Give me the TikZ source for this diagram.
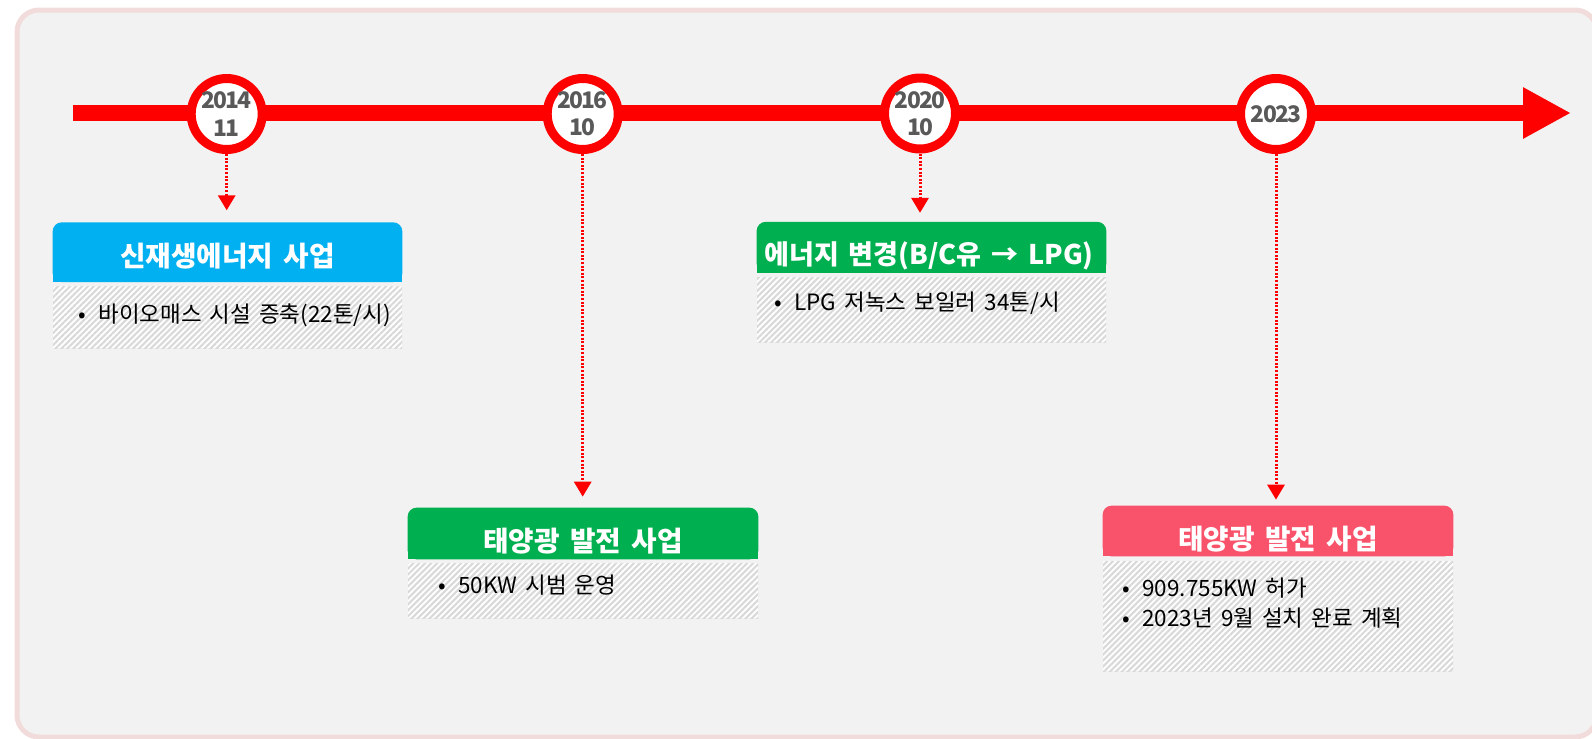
\documentclass[tikz,border=0pt]{standalone}
\usepackage{fontspec}
\setmainfont[WordSpace=1.6]{Noto Sans CJK KR}
\newfontfamily\yrfont[LetterSpace=-8]{Noto Sans CJK KR}
\usetikzlibrary{arrows.meta,patterns.meta}
\definecolor{bgfill}{HTML}{F2F2F2}
\definecolor{bgline}{HTML}{F2DCDB}
\definecolor{tlred}{HTML}{FF0000}
\definecolor{yrgray}{HTML}{595959}
\definecolor{skyblu}{HTML}{00B0F0}
\definecolor{grn}{HTML}{00B050}
\definecolor{pnk}{HTML}{F9526B}
\newlength\pu \setlength\pu{0.02cm}
\tikzstyle{yr}=[circle,draw=tlred,line width=9\pu,fill=white,minimum size=71\pu,inner sep=0pt,text=yrgray,align=center,font=\yrfont\bfseries\fontsize{13}{15.5}\selectfont]
\tikzstyle{hdr}=[rectangle,inner sep=0pt]
\tikzstyle{ttl}=[inner sep=0pt,text=white,font=\bfseries\fontsize{15.8}{18}\selectfont]
\tikzstyle{bdy}=[rectangle,inner sep=0pt,preaction={fill=white},pattern={Lines[angle=45,distance=2.4pt,line width=1.2pt]},pattern color=gray!30]
\tikzstyle{itm}=[anchor=west,inner sep=0pt,font=\fontsize{12.8}{15}\selectfont]
\tikzstyle{dotarr}=[tlred,line width=3\pu,dash pattern=on 2\pu off 1.6\pu,-{Triangle[length=0.3cm,width=0.34cm]}]
\newcommand{\bul}{\makebox[20\pu][l]{•}}

\begin{document}
\begin{tikzpicture}[x=0.02cm,y=-0.02cm]
\useasboundingbox (0,0) rectangle (1592,738);
\draw[draw=bgline,line width=5\pu,fill=bgfill,rounded corners=22\pu] (17,10) rectangle (1597,737);
% timeline
\coordinate (tl0) at (73,113); \coordinate (tl1) at (1571,113);
\draw[tlred,line width=16\pu,-{Triangle[length=0.96cm,width=0.96cm]}] (tl0) -- (tl1);
\node[yr] (c1) at (226.7,114) {2014\\11};
\node[yr] (c2) at (582.7,114) {2016\\10};
\node[yr] (c3) at (920,113.5) {2020\\10};
\node[yr] (c4) at (1276,114) {2023};
% boxes
\node[hdr,minimum width=349\pu,minimum height=59\pu] (h1) at (227.5,252.2) {};
\fill[skyblu,rounded corners=9\pu] (h1.south west) rectangle (h1.north east);
\fill[skyblu] (h1.south west) rectangle (h1.east);
\node[ttl] (t1) at (227.5,256) {신재생에너지 사업};
\node[bdy,minimum width=349\pu,minimum height=62\pu] (b1) at (227.5,317) {};
\node[itm] (i1) at (78,315) {\bul 바이오매스 시설 증축(22톤/시)};

\node[hdr,minimum width=350\pu,minimum height=51\pu] (h2) at (583,533.5) {};
\fill[grn,rounded corners=9\pu] (h2.south west) rectangle (h2.north east);
\fill[grn] (h2.south west) rectangle (h2.east);
\node[ttl] (t2) at (583,541.5) {태양광 발전 사업};
\node[bdy,minimum width=350\pu,minimum height=55\pu] (b2) at (583,590.5) {};
\node[itm] (i2) at (438,585) {\bul 50KW 시범 운영};

\node[hdr,minimum width=349\pu,minimum height=50\pu] (h3) at (931.5,247.2) {};
\fill[grn,rounded corners=9\pu] (h3.south west) rectangle (h3.north east);
\fill[grn] (h3.south west) rectangle (h3.east);
\node[ttl,font=\bfseries\fontsize{15.4}{18}\selectfont] (t3) at (929,255.5) {에너지 변경(B/C유 → LPG)};
\node[bdy,minimum width=349\pu,minimum height=65\pu] (b3) at (931.5,309.5) {};
\node[itm] (i3) at (774,303) {\bul LPG 저녹스 보일러 34톤/시};

\node[hdr,minimum width=350\pu,minimum height=50\pu] (h4) at (1278,531) {};
\fill[pnk,rounded corners=9\pu] (h4.south west) rectangle (h4.north east);
\fill[pnk] (h4.south west) rectangle (h4.east);
\node[ttl] (t4) at (1278,539) {태양광 발전 사업};
\node[bdy,minimum width=350\pu,minimum height=110\pu] (b4) at (1278,616) {};
\node[itm] (i4a) at (1122,588) {\bul 909.755KW 허가};
\node[itm] (i4b) at (1122,618) {\bul 2023년 9월 설치 완료 계획};
% dotted links
\draw[dotarr,shorten >=12\pu] (c1.south) -- (c1.south |- h1.north);
\draw[dotarr,shorten >=11\pu] (c2.south) -- (c2.south |- h2.north);
\draw[dotarr,shorten >=9\pu] (c3.south) -- (c3.south |- h3.north);
\draw[dotarr,shorten >=6\pu] (c4.south) -- (c4.south |- h4.north);
\end{tikzpicture}
\end{document}
